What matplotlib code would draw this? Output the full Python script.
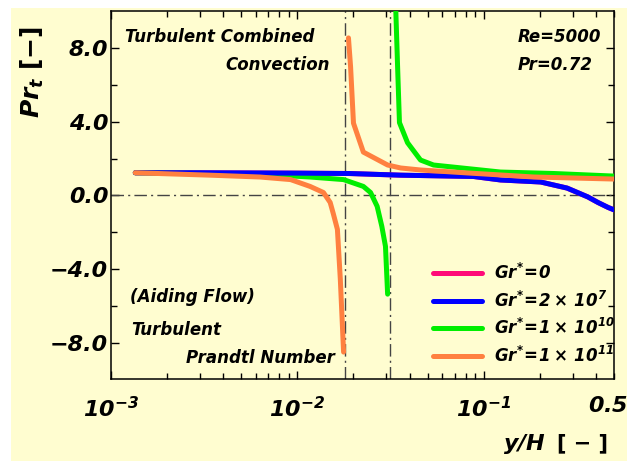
import matplotlib
matplotlib.use("Agg")
import matplotlib.pyplot as plt
from matplotlib.patches import Rectangle
from matplotlib.ticker import FixedLocator, NullFormatter, LogLocator

plt.rcParams['font.family'] = ['DejaVu Sans']
plt.rcParams['mathtext.fontset'] = 'custom'
plt.rcParams['mathtext.it'] = 'DejaVu Sans:italic:bold'
plt.rcParams['mathtext.rm'] = 'DejaVu Sans:italic:bold'
plt.rcParams['mathtext.bf'] = 'DejaVu Sans:italic:bold'
plt.rcParams['mathtext.default'] = 'it'

# ---- data ----
x_gr0 = [0.00135, 0.003, 0.01, 0.019, 0.0358, 0.088, 0.123, 0.202, 0.28, 0.362, 0.41, 0.465, 0.5]
y_gr0 = [1.23, 1.23, 1.21, 1.19, 1.10, 1.03, 0.84, 0.73, 0.40, -0.08, -0.38, -0.65, -0.78]

x_gr7 = [0.00135, 0.003, 0.01, 0.019, 0.0358, 0.088, 0.123, 0.202, 0.28, 0.362, 0.41, 0.465, 0.5]
y_gr7 = [1.23, 1.23, 1.21, 1.19, 1.10, 1.03, 0.84, 0.73, 0.40, -0.08, -0.38, -0.65, -0.78]

x_gr10_a = [0.00135, 0.003, 0.0078, 0.0117, 0.0177, 0.0226, 0.0247, 0.0268, 0.0284, 0.0297, 0.0305]
y_gr10_a = [1.23, 1.2, 1.1, 1.0, 0.86, 0.49, 0.16, -0.59, -1.68, -2.76, -5.35]
x_gr10_b = [0.0337, 0.0345, 0.0353, 0.039, 0.0458, 0.0538, 0.123, 0.238, 0.5]
y_gr10_b = [10.2, 6.97, 3.95, 2.86, 1.92, 1.65, 1.27, 1.19, 1.05]

x_gr11_a = [0.00135, 0.0034, 0.0063, 0.0092, 0.0117, 0.0138, 0.015, 0.0156, 0.0164, 0.017, 0.0177]
y_gr11_a = [1.23, 1.1, 1.0, 0.86, 0.49, 0.16, -0.38, -1.0, -1.84, -4.54, -8.49]
x_gr11_b = [0.0188, 0.0193, 0.0200, 0.0226, 0.0305, 0.0358, 0.0458, 0.082, 0.186, 0.5]
y_gr11_b = [8.54, 6.97, 3.92, 2.35, 1.65, 1.49, 1.38, 1.22, 1.0, 0.89]

labels = [r'$Gr^{*}\!=\!0$', r'$Gr^{*}\!=\!2\times\,10^{7}$',
          r'$Gr^{*}\!=\!1\times\,10^{10}$', r'$Gr^{*}\!=\!1\times\,10^{11}$']
colors = ['#ff0a78', '#0000ff', '#00ee00', '#ff8040']

y_ticks = [-8, -4, 0, 4, 8]
y_ticklabels = ['\u22128.0', '\u22124.0', '0.0', '4.0', '8.0']
x_ticks = [1e-3, 1e-2, 1e-1, 0.5]
x_ticklabels = [r'$10^{-3}$', r'$10^{-2}$', r'$10^{-1}$', r'$0.5$']
v_lines = [0.0181, 0.0316]

# ---- figure ----
W, H = 640, 461
fig = plt.figure(figsize=(W / 100, H / 100), dpi=100, facecolor='white')
fig.patches.append(Rectangle((11 / W, 0), (627 - 11) / W, (H - 8) / H,
                             transform=fig.transFigure, facecolor='#fffdd0',
                             edgecolor='none', zorder=-10))
ax = fig.add_axes([111 / W, 1 - 379 / H, (614 - 111) / W, (379 - 11) / H])
ax.set_facecolor('#fffdd0')
ax.set_zorder(1)

lw = 3.6
ax.plot(x_gr0, y_gr0, color=colors[0], lw=lw, label=labels[0], zorder=3, solid_capstyle='round')
ax.plot(x_gr10_a, y_gr10_a, color=colors[2], lw=lw, label=labels[2], zorder=4, solid_capstyle='round')
ax.plot(x_gr10_b, y_gr10_b, color=colors[2], lw=lw, zorder=4, solid_capstyle='round')
ax.plot(x_gr7, y_gr7, color=colors[1], lw=lw, label=labels[1], zorder=5, solid_capstyle='round')
ax.plot(x_gr11_a, y_gr11_a, color=colors[3], lw=lw, label=labels[3], zorder=6, solid_capstyle='round')
ax.plot(x_gr11_b, y_gr11_b, color=colors[3], lw=lw, zorder=6, solid_capstyle='round')

dd = (0, (9, 3, 1.5, 3))
ax.axhline(0, color='#444444', lw=1, linestyle=dd, zorder=2)
for v in v_lines:
    ax.axvline(v, color='#444444', lw=1, linestyle=dd, zorder=2)

ax.set_xscale('log')
ax.set_xlim(1e-3, 0.5)
ax.set_ylim(-9.95, 10.0)

ax.xaxis.set_major_locator(FixedLocator(x_ticks[:3]))
ax.xaxis.set_minor_locator(LogLocator(base=10, subs=range(2, 10)))
ax.xaxis.set_minor_formatter(NullFormatter())
ax.set_xticks(x_ticks[:3])
ax.set_xticklabels([])
ax.set_yticks(y_ticks)
ax.set_yticks([-6, -2, 2, 6], minor=True)
ax.set_yticklabels(y_ticklabels, fontsize=16, fontweight='bold', fontstyle='italic')

ax.tick_params(which='both', direction='in', top=True, right=True, width=1, colors='black')
ax.tick_params(which='major', length=6)
ax.tick_params(which='minor', length=4)
ax.tick_params(axis='y', pad=2)
for s in ax.spines.values():
    s.set_linewidth(1.1)

# x tick labels
x_label_pos = [1e-3, 1e-2, 1e-1, 0.467]
for xv, lab in zip(x_label_pos, x_ticklabels):
    ax.text(xv, -0.045, lab, transform=ax.get_xaxis_transform(), ha='center', va='top',
            fontsize=16)

fig.text(503 / W, 1 - 444 / H, r'$y/H$', fontsize=16, ha='left', va='center')
fig.text(557 / W, 1 - 443 / H, '[ \u2212 ]', fontsize=15, fontweight='bold',
         ha='left', va='center')
fig.text(32 / W, 1 - 72 / H, r'$Pr_{t}$' + ' [\u2212]', rotation=90, fontsize=18,
         fontweight='bold', ha='center', va='center')

tk = dict(fontsize=12, fontweight='bold', fontstyle='italic', ha='left', va='center')
ax.text(125 / W, 1 - 37 / H, 'Turbulent Combined', transform=fig.transFigure, **tk)
ax.text(330 / W, 1 - 65 / H, 'Convection', transform=fig.transFigure, **{**tk, 'ha': 'right'})
ax.text(518 / W, 1 - 37 / H, 'Re=5000', transform=fig.transFigure, **tk)
ax.text(518 / W, 1 - 65 / H, 'Pr=0.72', transform=fig.transFigure, **tk)
ax.text(130 / W, 1 - 297 / H, '(Aiding Flow)', transform=fig.transFigure, **tk)
ax.text(131 / W, 1 - 330 / H, 'Turbulent', transform=fig.transFigure, **tk)
ax.text(186 / W, 1 - 358 / H, 'Prandtl Number', transform=fig.transFigure, **tk)

handles, labs = ax.get_legend_handles_labels()
order = [labs.index(l) for l in labels]
leg = ax.legend([handles[i] for i in order], [labs[i] for i in order],
                loc='upper left', bbox_to_anchor=(433 / W, 1 - 263 / H),
                bbox_transform=fig.transFigure, frameon=False, fontsize=12,
                handlelength=2.95, handletextpad=0.7, labelspacing=0.45,
                borderpad=0, borderaxespad=0)
for line in leg.get_lines():
    line.set_linewidth(3.6)

fig.savefig('out.png', dpi=100, facecolor='white')
